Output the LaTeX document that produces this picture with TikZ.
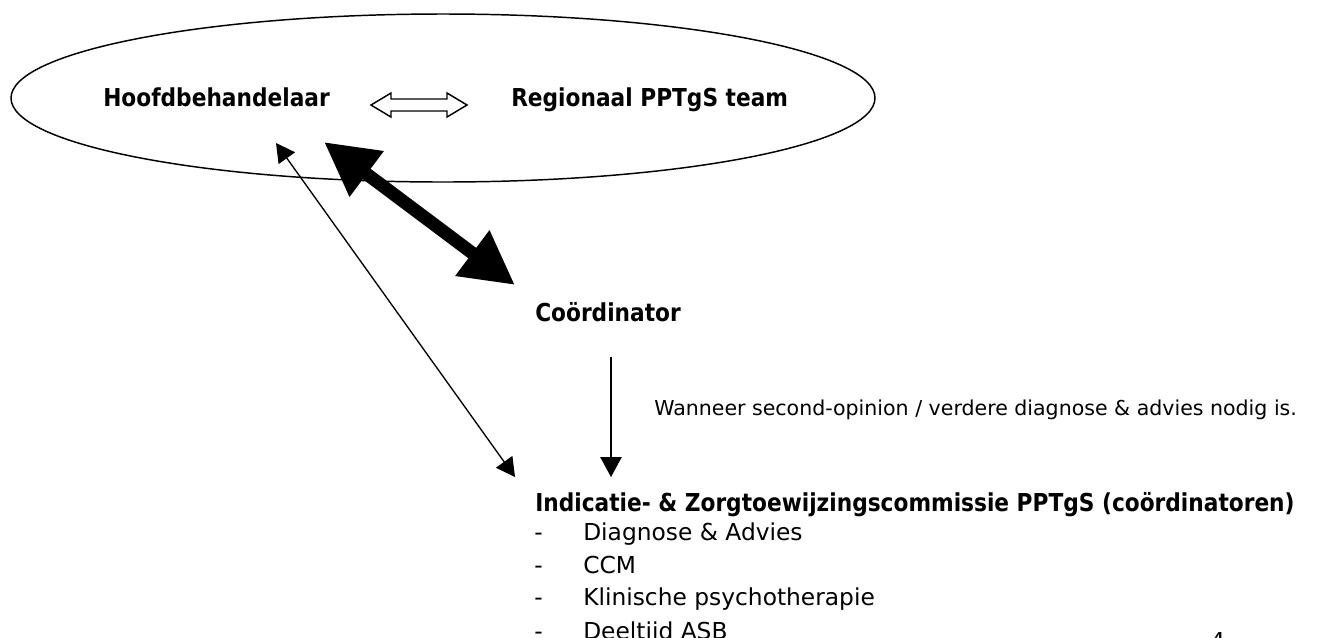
\documentclass[tikz,border=0pt]{standalone}
\usepackage{fontspec}
\setmainfont{DejaVu Sans}
\newfontfamily\headfont{DejaVu Sans}[FakeStretch=0.88]
\usetikzlibrary{arrows.meta}
\tikzset{
  head/.style={anchor=base west,inner sep=0pt,font=\headfont\bfseries\fontsize{18.5}{22}\selectfont},
  item/.style={anchor=base west,inner sep=0pt,font=\fontsize{17.5}{21}\selectfont},
  note/.style={anchor=base west,inner sep=0pt,font=\fontsize{15.4}{18}\selectfont},
  thinlink/.style={line width=1pt,{Triangle[length=14pt,width=15pt]}-{Triangle[length=14pt,width=15pt]}},
  boldlink/.style={line width=9.75pt,{Triangle[length=40pt,width=40pt]}-{Triangle[length=40pt,width=40pt]}},
  downlink/.style={line width=1.3pt,-{Triangle[length=15pt,width=16pt]}}
}
\begin{document}
\begin{tikzpicture}[x=0.75pt,y=-0.75pt]
\definecolor{fillcolor}{RGB}{255,255,255}
\definecolor{linecolor}{RGB}{0,0,0}
\useasboundingbox (0,0) rectangle (1339,637);
\clip (0,0) rectangle (1339,637);
\fill [fillcolor] (0,0) rectangle (1339,637);
\draw [line width=1.1pt,linecolor] (443,98) ellipse [x radius=432,y radius=84];
\node [head] (hb) at (103,106) {Hoofdbehandelaar};
\node [head] (reg) at (511,106) {Regionaal PPTgS team};
\draw [line width=1.1pt,linecolor,fill=fillcolor] (371,105) -- (391,93) -- (391,99) -- (447,99) -- (447,93) -- (467,105) -- (447,117) -- (447,111) -- (391,111) -- (391,117) -- cycle;
\node [head] (coord) at (535,321) {Coördinator};
\node [note] (when) at (654,415) {Wanneer second-opinion / verdere diagnose \& advies nodig is.};
\node [head] (izc) at (535,511) {Indicatie- \& Zorgtoewijzingscommissie PPTgS (coördinatoren)};
\node [item] (dash1) at (534,540) {-};
\node [item] (item1) at (583,540) {Diagnose \& Advies};
\node [item] (dash2) at (534,573) {-};
\node [item] (item2) at (583,573) {CCM};
\node [item] (dash3) at (534,605) {-};
\node [item] (item3) at (583,605) {Klinische psychotherapie};
\node [item] (dash4) at (534,639) {-};
\node [item] (item4) at (583,639) {Deeltijd ASB};
\node [item] (page) at (1210,649) {4};
\coordinate (hb tip) at (276,143);
\coordinate (izc tip) at (515,477);
\coordinate (hb bold) at (324,142);
\coordinate (coord bold) at (515,285);
\coordinate (coord out) at (611,357);
\coordinate (izc in) at (611,477);
\draw [thinlink,linecolor] (hb tip) -- (izc tip);
\draw [boldlink,linecolor] (hb bold) -- (coord bold);
\draw [downlink,linecolor] (coord out) -- (izc in);
\end{tikzpicture}
\end{document}
